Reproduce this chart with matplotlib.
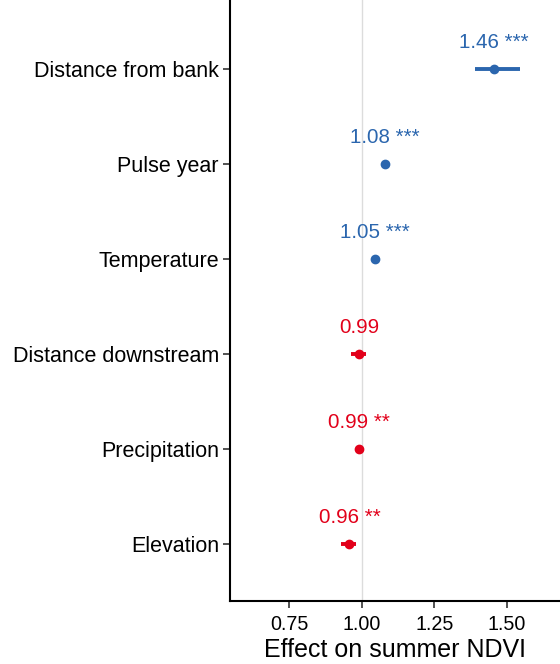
import matplotlib
matplotlib.use("Agg")
import matplotlib.pyplot as plt
import numpy as np

plt.rcParams["font.family"] = ["Liberation Sans", "DejaVu Sans"]

# model terms, top to bottom
terms = ["Distance from bank", "Pulse year", "Temperature",
         "Distance downstream", "Precipitation", "Elevation"]
estimate = [1.46, 1.08, 1.05, 0.99, 0.99, 0.96]
plot_x = [1.455, 1.08, 1.045, 0.992, 0.99, 0.958]
ci_low = [1.39, 1.07, 1.04, 0.965, 0.985, 0.93]
ci_high = [1.545, 1.09, 1.05, 1.015, 0.995, 0.98]
stars = ["***", "***", "***", "", "**", "**"]

blue = "#2b66ae"
red = "#e2001a"

fig = plt.figure(figsize=(5.6, 6.64), dpi=100)
ax = fig.add_axes([0.4107, 0.0949, 0.5893, 0.9051])

n = len(terms)
ypos = np.arange(n)[::-1]

ax.axvline(1.0, color="#dcdcdc", lw=1, zorder=0)

for i in range(n):
    c = blue if estimate[i] > 1 else red
    y = ypos[i]
    ax.plot([ci_low[i], ci_high[i]], [y, y], color=c, lw=2.8,
            solid_capstyle="butt", zorder=2)
    ax.plot(plot_x[i], y, "o", color=c, ms=6, zorder=3)
    lab = f"{estimate[i]:.2f}"
    if stars[i]:
        lab += " " + stars[i]
    ax.text(plot_x[i], y + 0.28, lab, color=c, fontsize=14.8,
            ha="center", va="center")

ax.set_yticks(ypos)
ax.set_yticklabels(terms, fontsize=15.5)
ax.set_xticks([0.75, 1.0, 1.25, 1.5])
ax.set_xticklabels(["0.75", "1.00", "1.25", "1.50"], fontsize=14.2)
ax.set_xlim(0.547, 1.683)
ax.set_ylim(-0.6, n - 1 + 0.725)
ax.set_xlabel("Effect on summer NDVI", fontsize=18, labelpad=3)

for s in ["top", "right"]:
    ax.spines[s].set_visible(False)
for s in ["left", "bottom"]:
    ax.spines[s].set_linewidth(1.5)
ax.tick_params(axis="both", length=5, width=1.2, color="#333333", pad=3)
ax.tick_params(axis="x", pad=5)

fig.savefig("out.png", dpi=100)
